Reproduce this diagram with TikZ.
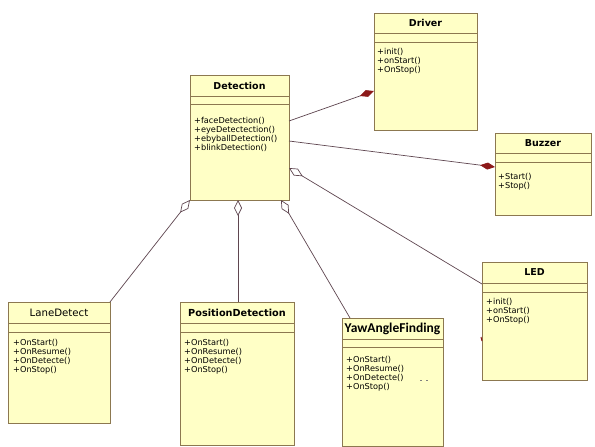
\documentclass[tikz,border=0pt]{standalone}
\usepackage{fontspec}
\setmainfont{DejaVu Sans}
\newfontfamily\calibfont{Carlito}
\usetikzlibrary{calc,arrows.meta}
\definecolor{boxfill}{RGB}{255,255,198}
\definecolor{boxline}{RGB}{140,120,80}
\definecolor{conn}{RGB}{95,70,80}
\definecolor{comp}{RGB}{140,25,25}
\tikzset{
 cbox/.style={draw=boxline, fill=boxfill, line width=1pt, inner sep=0pt, outer sep=0pt, anchor=north west},
 sepline/.style={draw=boxline, line width=0.8pt},
 ttl/.style={font=\fontsize{9.5}{11}\selectfont\bfseries, inner sep=0pt},
 meth/.style={font=\fontsize{8.2}{9}\selectfont, align=left, inner sep=0pt, anchor=north west},
 aggr/.style={draw=conn, line width=0.7pt, {Diamond[open, length=16pt, width=8pt, fill=white]}-},
 compo/.style={draw=conn, line width=0.7pt, -{Diamond[length=15pt, width=7pt, color=comp, fill=comp]}},
}
% #1 name, #2 x, #3 y, #4 w, #5 h, #6 title, #7 sep1, #8 sep2, #9 title style
\newcommand{\classbox}[9]{%
  \node[cbox, minimum width=#4pt, minimum height=#5pt] (#1) at (#2,#3) {};
  \draw[sepline] ($(#1.north west)+(0,#7)$) -- ($(#1.north east)+(0,#7)$);
  \draw[sepline] ($(#1.north west)+(0,#8)$) -- ($(#1.north east)+(0,#8)$);
  \node[ttl, #9] (#1-t) at ($(#1.north)+(0,#7/2)$) {#6};
}
\begin{document}
\begin{tikzpicture}[x=1pt,y=-1pt]
\fill[white] (0,0) rectangle (595,447);
\useasboundingbox (0,0) rectangle (595,447);

\classbox{det}{190}{75}{99}{125}{Detection}{21}{29}{}
\node[meth] (det-m) at ($(det.north west)+(4,42)$) {+faceDetection()\\+eyeDetectection()\\+ebyballDetection()\\+blinkDetection()};

\classbox{drv}{374}{13}{103}{117}{Driver}{20}{29}{}
\node[meth] (drv-m) at ($(drv.north west)+(3,35)$) {+init()\\+onStart()\\+OnStop()};

\classbox{buz}{495}{133}{96}{82}{Buzzer}{20}{29}{}
\node[meth] (buz-m) at ($(buz.north west)+(3,40)$) {+Start()\\+Stop()};

\classbox{led}{482}{262}{105}{118}{LED}{21}{30}{}
\node[meth] (led-m) at ($(led.north west)+(4,36)$) {+init()\\+onStart()\\+OnStop()};

\classbox{lane}{8}{302}{102}{121}{LaneDetect}{21}{30}{font=\fontsize{10.2}{12}\selectfont}
\node[meth] (lane-m) at ($(lane.north west)+(5,37)$) {+OnStart()\\+OnResume()\\+OnDetecte()\\+OnStop()};

\classbox{pos}{180}{302}{114}{143}{PositionDetection}{21}{30}{font=\fontsize{9.7}{12}\selectfont\bfseries}
\node[meth] (pos-m) at ($(pos.north west)+(4,37)$) {+OnStart()\\+OnResume()\\+OnDetecte()\\+OnStop()};

\classbox{yaw}{342}{318}{101}{128}{YawAngleFinding}{21}{29}{font=\calibfont\fontsize{13.5}{15}\selectfont\bfseries}
\node[meth] (yaw-m) at ($(yaw.north west)+(4,38)$) {+OnStart()\\+OnResume()\\+OnDetecte()\\+OnStop()};

% connectors
\draw[compo] ($(det.north east)+(0,46)$) -- ($(drv.north west)+(0,78)$);
\draw[compo] ($(det.north east)+(0,66)$) -- ($(buz.north west)+(0,34)$);
\draw[aggr] ($(det.north east)+(0,93)$) -- ($(led.north west)+(0,22)$);
\draw[aggr] ($(det.south west)+(91,0)$) -- ($(yaw.north west)+(8,0)$);
\draw[aggr] ($(det.south west)+(48,0)$) -- ($(pos.north west)+(58,0)$);
\draw[aggr] (det.south west) -- (lane.north east);

% small marks
\draw[comp, line width=1pt] ($(led.north west)+(-1,75)$) -- ($(led.north west)+(0,79)$);
\draw[gray, line width=0.6pt] ($(yaw.north west)+(78,62)$) -- ($(yaw.north west)+(80,62)$)
  ($(yaw.north west)+(84,62)$) -- ($(yaw.north west)+(86,62)$);
\end{tikzpicture}
\end{document}
